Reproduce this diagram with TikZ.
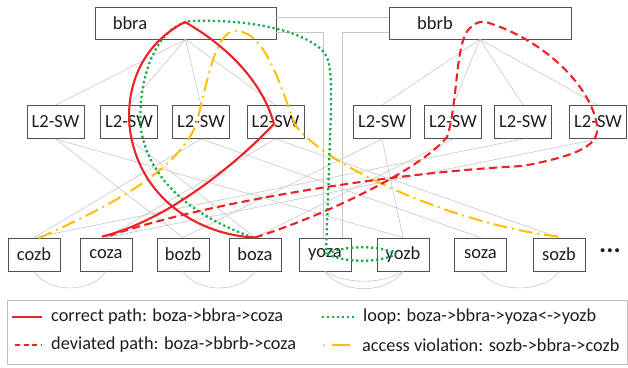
\documentclass[tikz,border=0pt]{standalone}
\usepackage{fontspec}
\setmainfont{Carlito}
\usetikzlibrary{calc}
\definecolor{okred}{HTML}{EC2227}
\definecolor{loopgreen}{HTML}{1BA94C}
\definecolor{violyellow}{HTML}{FFBE00}
\definecolor{inkgray}{HTML}{1E1E1E}
\begin{document}
\begin{tikzpicture}[x=1pt,y=-1pt,
  box/.style={draw=black!68, line width=0.9pt, fill=white, inner sep=0pt,
    minimum width=57pt, minimum height=33pt, text=inkgray,
    font=\fontsize{18.5}{20}\selectfont},
  edgebox/.style={box, minimum width=52pt},
  corebox/.style={box, minimum height=32pt},
  lbl/.style={inner sep=0pt, text=inkgray, font=\fontsize{18.5}{20}\selectfont},
  link/.style={draw=black!22, line width=0.6pt},
  okpath/.style={draw=okred, line width=2.1pt},
  devpath/.style={draw=okred, line width=2.1pt, dash pattern=on 8pt off 4.5pt},
  looppath/.style={draw=loopgreen, line width=2.3pt, dash pattern=on 2.2pt off 2.8pt},
  violpath/.style={draw=violyellow, line width=2pt, dash pattern=on 14pt off 5pt on 1.8pt off 5pt},
  legtext/.style={anchor=west, inner sep=0pt, text=inkgray, font=\fontsize{18.3}{20}\selectfont}
]
\useasboundingbox (0,0) rectangle (628,367);

% core routers
\node[corebox, minimum width=181pt] (bbra) at (185.5,23) {};
\node[corebox, minimum width=182pt] (bbrb) at (480,23) {};
\node[lbl] (bbraLbl) at (130,23) {bbra};
\node[lbl] (bbrbLbl) at (435,23) {bbrb};

% L2 switches
\foreach \n/\x in {L1/55.5, L2/129, L3/201, L4/275.5, L5/382, L6/453, L7/523, L8/598}
  \node[box] (\n) at (\x,122) {L2-SW};

% edge switches
\foreach \n/\x in {cozb/34, coza/106, bozb/183, boza/255, yoza/325, yozb/403, soza/480.5, sozb/559}
  \node[edgebox] (\n) at (\x,254.5) {\n};
\node[inner sep=0pt, text=inkgray, font=\fontsize{27}{27}\selectfont\bfseries] (more) at (610,251) {...};

% physical links
\foreach \n in {L1,L2,L3,L4} \draw[link] (bbra.south) -- (\n.north);
\foreach \n in {L5,L6,L7,L8} \draw[link] (bbrb.south) -- (\n.north);
\draw[link] ([yshift=6pt]bbra.east) -- ([yshift=6pt]bbrb.west);
\draw[link] ([yshift=-9pt]bbra.east) -| ([xshift=-2pt]yoza.north);
\draw[link] ([yshift=-9pt]bbrb.west) -| ([xshift=17pt]yoza.north);
\foreach \a/\b in {L1/bozb, L1/yozb, L2/boza, L3/cozb, L3/soza, L4/coza, L4/sozb,
                   L5/bozb, L5/yozb, L6/boza, L7/cozb, L8/coza}
  \draw[link] (\a.south) -- (\b.north);
\draw[link] (cozb.south) .. controls ($(cozb.south)+(15,22)$) and ($(coza.south)+(-15,22)$) .. (coza.south);
\draw[link] (bozb.south) .. controls ($(bozb.south)+(15,22)$) and ($(boza.south)+(-15,22)$) .. (boza.south);
\draw[link] (soza.south) .. controls ($(soza.south)+(15,22)$) and ($(sozb.south)+(-15,22)$) .. (sozb.south);
\draw[link] (yoza.south) .. controls ($(yoza.south)+(17,23)$) and ($(yozb.south)+(-17,23)$) .. (yozb.south);
\draw[link] (yoza.south) .. controls ($(yoza.south)+(20,13)$) and ($(yozb.south)+(-20,13)$) .. (yozb.south);

% access violation: sozb -> bbra -> cozb
\draw[violpath] ($(sozb.north)+(-1,-1)$)
  .. controls (460,225) and (330,170) .. (295,125)
  .. controls (280,85) and (265,30) .. (235,31)
  .. controls (215,32) and (208,80) .. (196,125)
  .. controls (175,175) and (100,210) .. ($(cozb.north)+(4,1)$);

% loop: boza -> bbra -> yoza <-> yozb
\draw[looppath] ($(boza.north)+(-2,0)$)
  .. controls (190,215) and (150,180) .. (141,130)
  .. controls (137,80) and (155,28) .. (190,21)
  .. controls (250,19) and (300,30) .. (322,50)
  .. controls (332,60) and (331,80) .. (331,110)
  -- (326,254);
\draw[looppath] (327,254) .. controls (345,245) and (380,245) .. (396,254);
\draw[looppath] (327,254) .. controls (345,263) and (380,263) .. (396,254);

% deviated path: boza -> bbrb -> coza
\draw[devpath] (boza.north)
  .. controls (340,210) and (425,165) .. (447,137)
  .. controls (458,105) and (455,40) .. (470,28)
  .. controls (478,20) and (485,21) .. (492,24)
  .. controls (545,42) and (590,85) .. (597,125)
  .. controls (600,145) and (580,155) .. (523,166)
  .. controls (400,172) and (215,200) .. ($(coza.north)+(4,-2)$);

% correct path: boza -> bbra -> coza
\draw[okpath] ($(coza.north)+(-4,-1)$)
  .. controls (170,220) and (240,160) .. (274,124)
  .. controls (262,80) and (225,45) .. (185,22)
  .. controls (140,45) and (125,90) .. (130,130)
  .. controls (140,200) and (200,235) .. (boza.north);

% legend
\node[draw=black!25, line width=0.8pt, minimum width=620pt, minimum height=64pt, inner sep=0pt] (legend) at (317,332) {};
\coordinate (k1a) at (12,317); \coordinate (k1b) at (42,317);
\coordinate (k2a) at (15,345); \coordinate (k2b) at (42,345);
\coordinate (k3a) at (322,317); \coordinate (k3b) at (355,317);
\coordinate (k4a) at (323,345); \coordinate (k4b) at (351,345);
\draw[okpath, line width=1.2pt] (k1a) -- (k1b);
\draw[devpath, line width=1.2pt, dash pattern=on 5pt off 3.5pt] (k2a) -- (k2b);
\draw[looppath, line width=1.4pt] (k3a) -- (k3b);
\draw[violpath, line width=1.4pt, dash pattern=on 1pt off 8pt on 17pt off 0pt] (k4a) -- (k4b);
\node[legtext] (t1) at (51,317) {correct path: boza->bbra->coza};
\node[legtext] (t2) at (51,345) {deviated path: boza->bbrb->coza};
\node[legtext] (t3) at (363,317) {loop: boza->bbra->yoza<->yozb};
\node[legtext] (t4) at (362,345) {access violation: sozb->bbra->cozb};
\end{tikzpicture}
\end{document}
